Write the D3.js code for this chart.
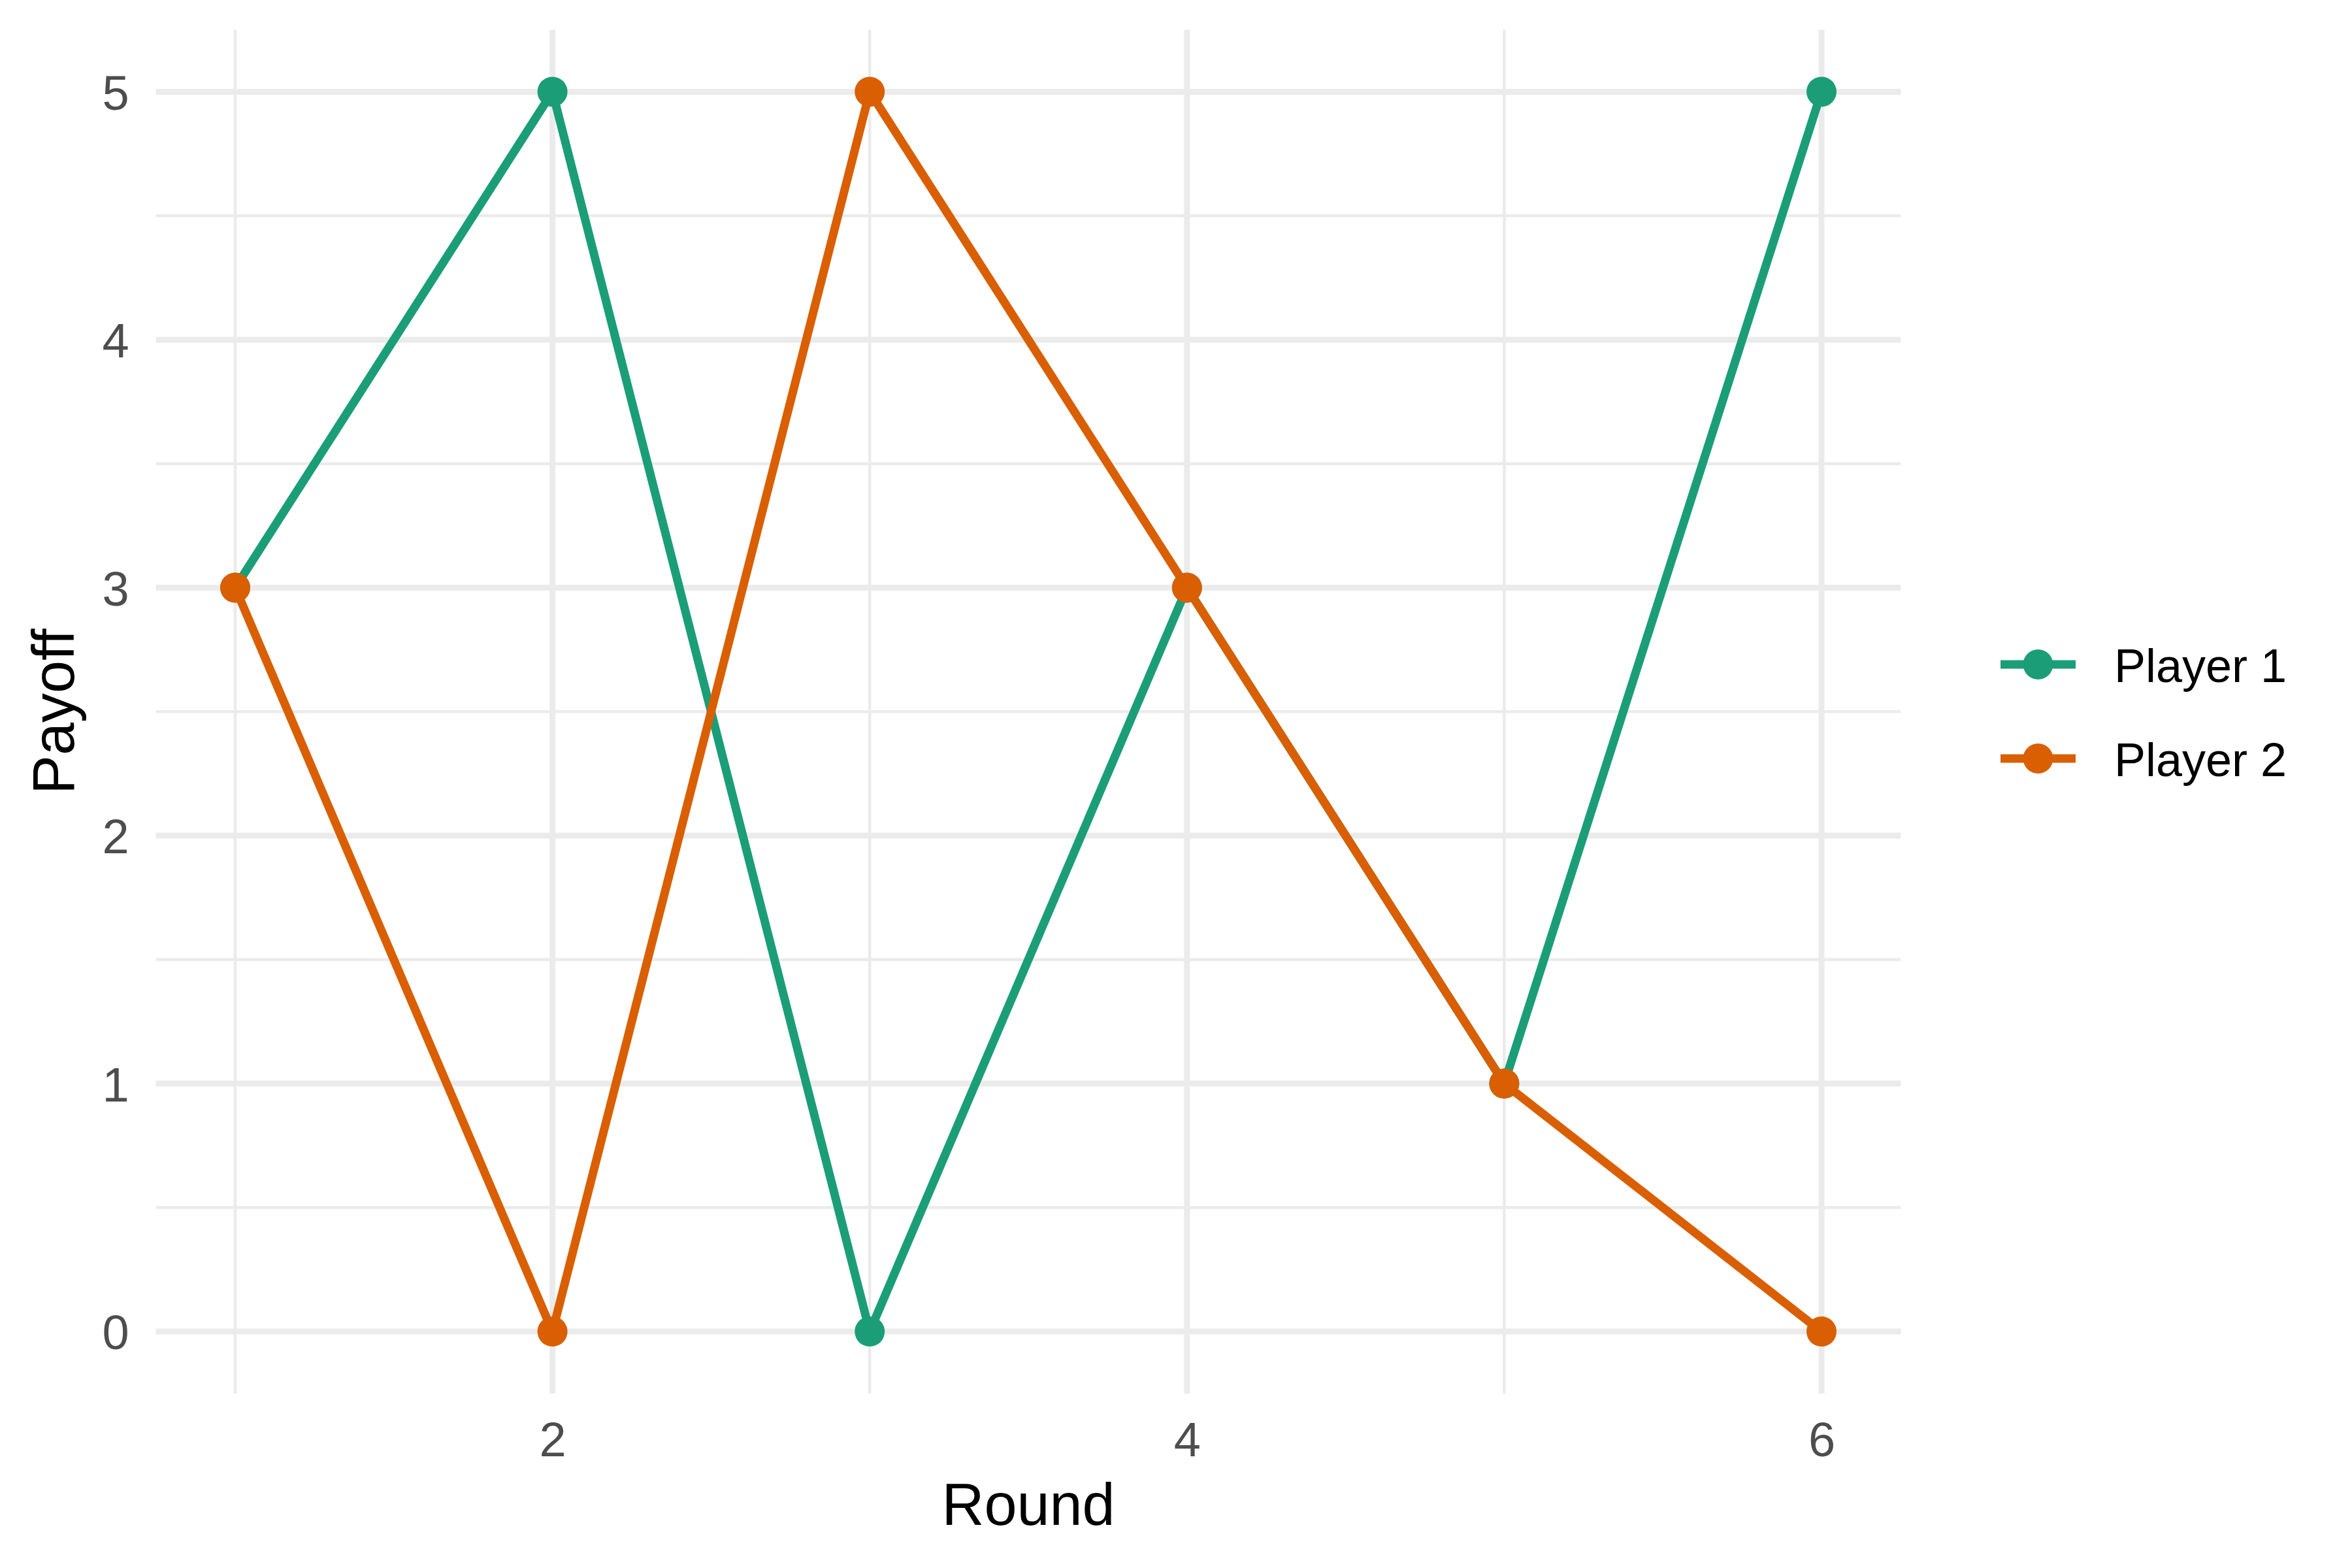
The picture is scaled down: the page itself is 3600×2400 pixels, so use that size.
<!DOCTYPE html>
<html>
<head>
<meta charset="utf-8">
<script src="https://cdn.jsdelivr.net/npm/d3@7"></script>
<style>
  body { margin: 0; background: #fff; }
  text { font-family: "Liberation Sans", Arial, sans-serif; }
</style>
</head>
<body>
<script>
// data
const rounds = [1, 2, 3, 4, 5, 6];
const player1 = [3, 5, 0, 3, 1, 5];
const player2 = [3, 0, 5, 3, 1, 0];
const seriesNames = ["Player 1", "Player 2"];
const seriesColors = ["#1B9E77", "#D95F02"];

const xTicks = [2, 4, 6];
const xMinor = [1, 3, 5];
const yTicks = [0, 1, 2, 3, 4, 5];
const yMinor = [0.5, 1.5, 2.5, 3.5, 4.5];

// panel box
const W = 3600, H = 2400;
const panel = {left: 238.6, right: 2909.4, top: 45.5, bottom: 2133};

const x = d3.scaleLinear().domain([0.75, 6.25]).range([panel.left, panel.right]);
const y = d3.scaleLinear().domain([-0.25, 5.25]).range([panel.bottom, panel.top]);

const svg = d3.select("body").append("svg")
    .attr("width", W)
    .attr("height", H);

svg.append("rect").attr("width", W).attr("height", H).attr("fill", "#fff");

// grid (minor then major)
const grid = svg.append("g");
grid.selectAll(".ymin").data(yMinor).enter().append("line")
    .attr("x1", panel.left).attr("x2", panel.right)
    .attr("y1", d => y(d)).attr("y2", d => y(d))
    .attr("stroke", "#EBEBEB").attr("stroke-width", 4.5);
grid.selectAll(".xmin").data(xMinor).enter().append("line")
    .attr("y1", panel.top).attr("y2", panel.bottom)
    .attr("x1", d => x(d)).attr("x2", d => x(d))
    .attr("stroke", "#EBEBEB").attr("stroke-width", 4.5);
grid.selectAll(".ymaj").data(yTicks).enter().append("line")
    .attr("x1", panel.left).attr("x2", panel.right)
    .attr("y1", d => y(d)).attr("y2", d => y(d))
    .attr("stroke", "#EBEBEB").attr("stroke-width", 9);
grid.selectAll(".xmaj").data(xTicks).enter().append("line")
    .attr("y1", panel.top).attr("y2", panel.bottom)
    .attr("x1", d => x(d)).attr("x2", d => x(d))
    .attr("stroke", "#EBEBEB").attr("stroke-width", 9);

// axes, labels only
const xAxis = d3.axisBottom(x).tickValues(xTicks).tickFormat(d3.format("d"))
    .tickSize(0).tickPadding(43);
const yAxis = d3.axisLeft(y).tickValues(yTicks).tickFormat(d3.format("d"))
    .tickSize(0).tickPadding(41);

const gx = svg.append("g").attr("transform", "translate(0," + panel.bottom + ")").call(xAxis);
const gy = svg.append("g").attr("transform", "translate(" + panel.left + ",0)").call(yAxis);
[gx, gy].forEach(g => {
    g.select(".domain").remove();
    g.selectAll("text")
        .attr("font-family", "Liberation Sans, Arial, sans-serif")
        .attr("font-size", 74)
        .attr("fill", "#4D4D4D");
});
gy.selectAll("text").attr("dy", "0.36em");

// axis titles
svg.append("text")
    .attr("x", (panel.left + panel.right) / 2)
    .attr("y", 2334)
    .attr("text-anchor", "middle")
    .attr("font-size", 90)
    .attr("fill", "#000")
    .text("Round");

svg.append("text")
    .attr("transform", "translate(113," + ((panel.top + panel.bottom) / 2) + ") rotate(-90)")
    .attr("text-anchor", "middle")
    .attr("font-size", 90)
    .attr("fill", "#000")
    .text("Payoff");

// series
const series = [player1, player2].map((vals, i) => ({
    name: seriesNames[i],
    color: seriesColors[i],
    points: rounds.map((r, j) => ({r: r, v: vals[j]}))
}));

const line = d3.line().x(d => x(d.r)).y(d => y(d.v));

svg.append("g").selectAll("path").data(series).enter().append("path")
    .attr("d", d => line(d.points))
    .attr("fill", "none")
    .attr("stroke", d => d.color)
    .attr("stroke-width", 13)
    .attr("stroke-linejoin", "round");

series.forEach(s => {
    svg.append("g").selectAll("circle").data(s.points).enter().append("circle")
        .attr("cx", d => x(d.r))
        .attr("cy", d => y(d.v))
        .attr("r", 23)
        .attr("fill", s.color);
});

// legend
const legend = svg.append("g");
const keyY = d3.scalePoint().domain(seriesNames).range([1017, 1161]);
const items = legend.selectAll("g").data(series).enter().append("g")
    .attr("transform", d => "translate(0," + keyY(d.name) + ")");
items.append("line")
    .attr("x1", 3062).attr("x2", 3177)
    .attr("stroke", d => d.color)
    .attr("stroke-width", 13);
items.append("circle")
    .attr("cx", 3119.5).attr("r", 23)
    .attr("fill", d => d.color);
items.append("text")
    .attr("x", 3236).attr("y", 27)
    .attr("font-size", 72)
    .attr("fill", "#000")
    .text(d => d.name);
</script>
</body>
</html>
